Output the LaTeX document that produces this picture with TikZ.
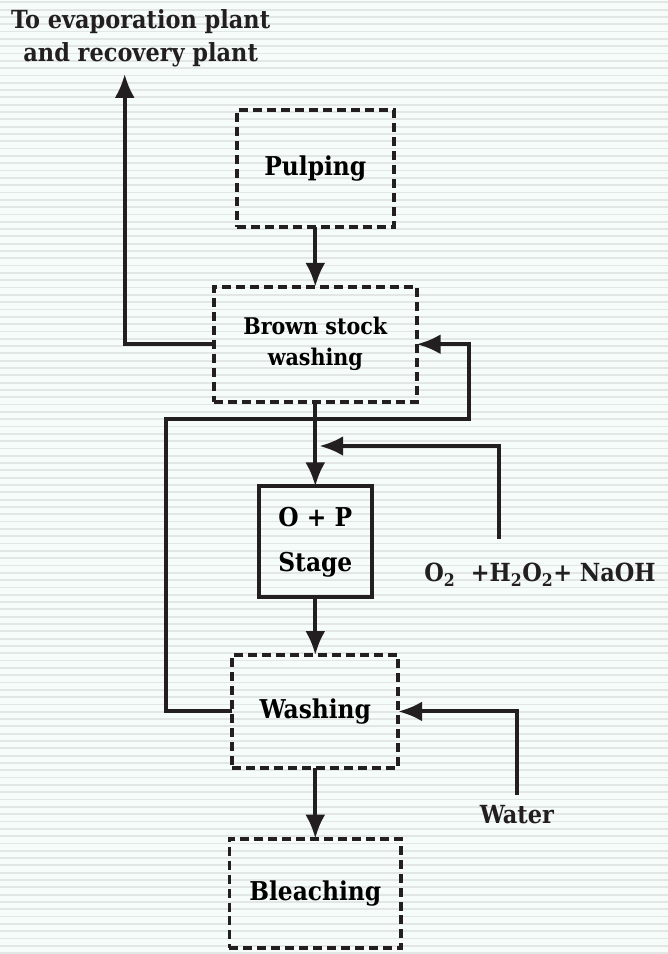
\documentclass[tikz,border=0pt]{standalone}
\usepackage{fontspec}
\setmainfont{DejaVu Serif Condensed}
\usetikzlibrary{arrows.meta,positioning}

\definecolor{bgmint}{RGB}{245,252,249}
\definecolor{bgline}{RGB}{226,230,229}
\definecolor{ink}{RGB}{35,31,32}

\begin{document}
\begin{tikzpicture}[x=1pt, y=-1pt,
  stage/.style={draw=ink, line width=4pt, dash pattern=on 9pt off 5pt, align=center, inner sep=0pt, outer sep=0pt, font=\bfseries\fontsize{26}{30}\selectfont},
  plain/.style={stage, solid},
  lbl/.style={text=ink, align=center, inner sep=0pt, font=\bfseries\fontsize{25}{33}\selectfont},
  arr/.style={draw=ink, -{Latex[length=24pt,width=20pt]}, line width=4pt}
]
% background with stripes
\fill[bgmint] (0,0) rectangle (669,954);
\foreach \y in {0,1,...,130}
  \fill[bgline] (0,1.4+7.33*\y) rectangle (669,3.2+7.33*\y);
\useasboundingbox (0,0) rectangle (669,954);

% process column
\node[stage, minimum width=157pt, minimum height=117pt] (pulp) at (316,169) {Pulping};
\node[stage, minimum width=203pt, minimum height=115pt, below=60pt of pulp, font=\bfseries\fontsize{23}{31}\selectfont] (bsw) {Brown stock\\washing};
\node[plain, minimum width=113pt, minimum height=111pt, below=85pt of bsw, font=\bfseries\fontsize{26}{45}\selectfont] (op) {O + P\\Stage};
\node[stage, minimum width=166pt, minimum height=113pt, below=58pt of op] (wash) {Washing};
\node[stage, minimum width=172pt, minimum height=110pt, below=71pt of wash] (bleach) {Bleaching};

% side labels
\node[lbl] (evap) at (141,38) {To evaporation plant\\and recovery plant};
\node[lbl, anchor=west] (chem) at (425,576) {O\textsubscript{2}\ \ +H\textsubscript{2}O\textsubscript{2}+ NaOH};
\node[lbl] (water) at (518,816) {Water};
\coordinate (evapin) at (125,74);
\coordinate (loopl) at (166,420);
\coordinate (loopr) at (470,420);
\coordinate (o2src) at (500,540);
\coordinate (o2in) at (320,447);

% connectors
\draw[arr] (pulp) -- (bsw);
\draw[arr] (bsw) -- (op);
\draw[arr] (op) -- (wash);
\draw[arr] (wash) -- (bleach);
\draw[arr] (bsw.west) -| (evapin);
\draw[arr] (wash.west) -| (loopl) -- (loopr) |- (bsw.east);
\draw[arr] (o2src) |- (o2in);
\draw[arr] ([yshift=10pt]water.north) |- (wash.east);
\end{tikzpicture}
\end{document}
